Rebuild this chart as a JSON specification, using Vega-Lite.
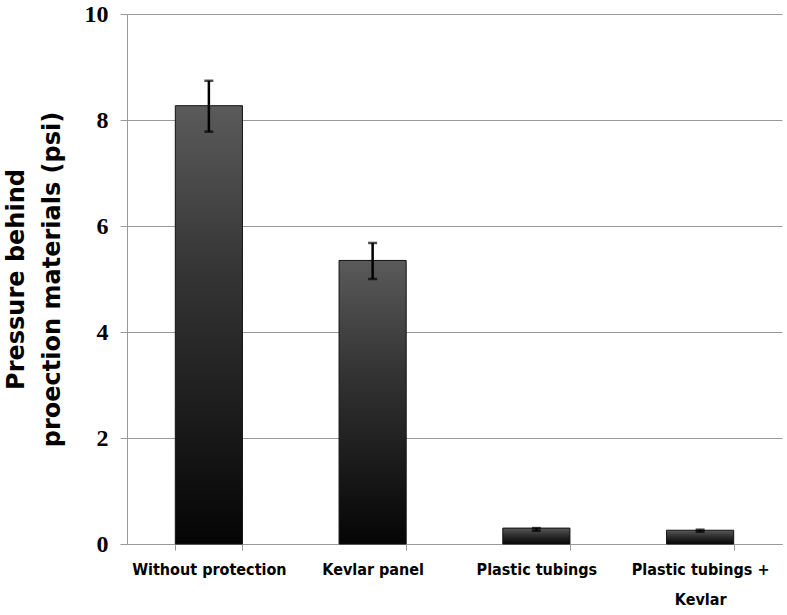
{
  "$schema": "https://vega.github.io/schema/vega-lite/v6.json",
  "width": 655,
  "height": 530,
  "autosize": {"type": "none"},
  "padding": {"left": 127, "top": 14, "right": 5, "bottom": 71},
  "background": "white",
  "config": {"view": {"stroke": null}},
  "data": {
    "values": [
      {"material": "Without protection", "pressure": 8.27, "low": 7.78, "high": 8.74},
      {"material": "Kevlar panel", "pressure": 5.35, "low": 5.0, "high": 5.68},
      {"material": "Plastic tubings", "pressure": 0.3, "low": 0.25, "high": 0.3},
      {"material": "Plastic tubings + Kevlar", "pressure": 0.26, "low": 0.23, "high": 0.27}
    ]
  },
  "encoding": {
    "x": {
      "field": "material",
      "type": "nominal",
      "sort": null,
      "scale": {"paddingInner": 0.59, "paddingOuter": 0.295},
      "axis": {
        "title": null,
        "labelAngle": 0,
        "labelFont": "DejaVu Sans Condensed",
        "labelFontWeight": "bold",
        "labelFontSize": 16,
        "labelColor": "black",
        "labelPadding": 11,
        "labelLineHeight": 30,
        "labelLimit": 200,
        "labelExpr": "datum.value == 'Plastic tubings + Kevlar' ? ['Plastic tubings +', 'Kevlar'] : datum.label",
        "bandPosition": 0,
        "tickBand": "extent",
        "tickSize": 6,
        "tickColor": "#999999",
        "domainColor": "#999999",
        "grid": false
      }
    }
  },
  "layer": [
    {
      "mark": {
        "type": "bar",
        "stroke": "#111111",
        "strokeWidth": 1,
        "color": {
          "gradient": "linear",
          "x1": 0, "y1": 0, "x2": 0, "y2": 1,
          "stops": [
            {"offset": 0, "color": "#5a5a5a"},
            {"offset": 0.4, "color": "#333333"},
            {"offset": 1, "color": "#050505"}
          ]
        }
      },
      "encoding": {
        "y": {
          "field": "pressure",
          "type": "quantitative",
          "scale": {"domain": [0, 10]},
          "axis": {
            "values": [0, 2, 4, 6, 8, 10],
            "title": ["Pressure behind", "proection materials (psi)"],
            "titleFont": "DejaVu Sans",
            "titleFontSize": 24,
            "titleFontWeight": "bold",
            "titleColor": "black",
            "titleLineHeight": 36,
            "titlePadding": 20,
            "labelFont": "Liberation Serif",
            "labelFontWeight": "bold",
            "labelFontSize": 24,
            "labelColor": "black",
            "labelPadding": 12,
            "tickSize": 7,
            "tickColor": "#999999",
            "domainColor": "#999999",
            "gridColor": "#999999",
            "gridWidth": 1
          }
        }
      }
    },
    {
      "mark": {"type": "rule", "color": "black", "strokeWidth": 2.5},
      "encoding": {
        "y": {"field": "low", "type": "quantitative"},
        "y2": {"field": "high"}
      }
    },
    {
      "mark": {"type": "tick", "color": "black", "size": 9, "thickness": 2.5, "orient": "horizontal"},
      "encoding": {"y": {"field": "low", "type": "quantitative"}}
    },
    {
      "mark": {"type": "tick", "color": "black", "size": 9, "thickness": 2.5, "orient": "horizontal"},
      "encoding": {"y": {"field": "high", "type": "quantitative"}}
    }
  ]
}
